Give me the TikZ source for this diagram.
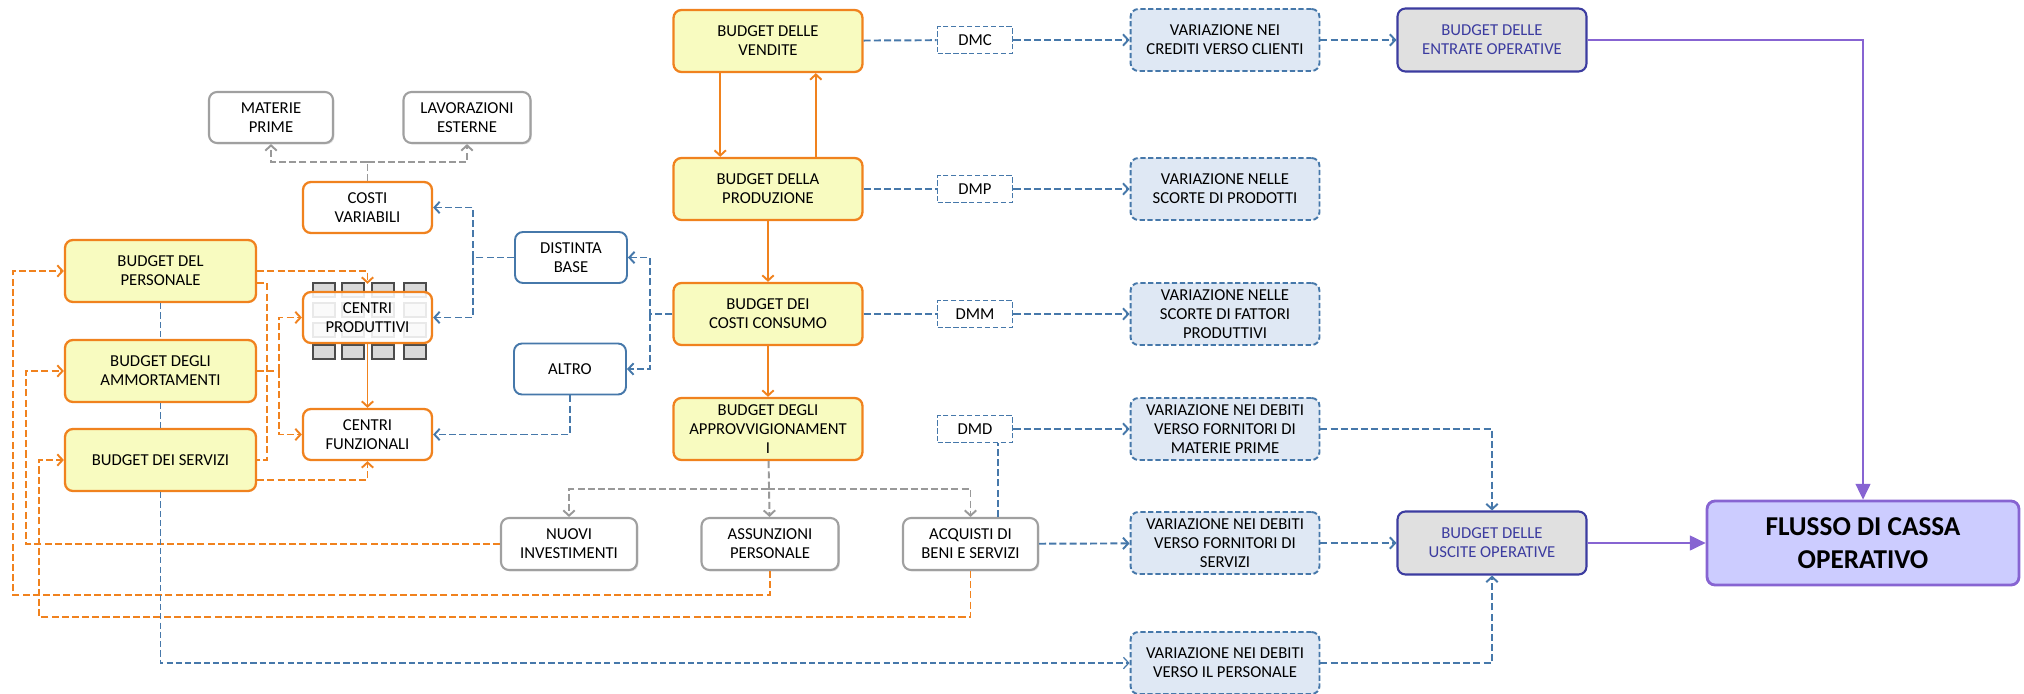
\documentclass[tikz,border=0pt]{standalone}
\usepackage{fontspec}
\setmainfont{Carlito}
\usetikzlibrary{positioning,calc,arrows.meta,shadows}

\definecolor{orng}{RGB}{240,130,30}
\definecolor{ylw}{RGB}{248,251,192}
\definecolor{blu}{RGB}{70,120,170}
\definecolor{lblu}{RGB}{223,232,244}
\definecolor{gry}{RGB}{160,160,160}
\definecolor{navy}{RGB}{60,60,160}
\definecolor{lgry}{RGB}{224,224,224}
\definecolor{purp}{RGB}{135,100,210}
\definecolor{lav}{RGB}{204,204,255}

\begin{document}
\begin{tikzpicture}[x=0.02cm,y=-0.02cm,
    font=\fontsize{9.5}{10.8}\selectfont,
    >={Straight Barb[length=3pt,width=6.5pt]},
    base/.style={rounded corners=4.5pt,align=center,inner sep=1pt},
    budget/.style={base,draw=orng,fill=ylw,line width=1.3pt,minimum width=3.78cm,minimum height=1.24cm},
    centro/.style={base,draw=orng,fill=white,line width=1.3pt,minimum width=2.58cm,minimum height=1.02cm},
    fonte/.style={base,draw=blu,fill=white,line width=1.1pt,minimum width=2.24cm,minimum height=1.02cm},
    voce/.style={base,draw=gry,fill=white,line width=1.2pt,minimum height=1.04cm,
        drop shadow={shadow xshift=0.8pt,shadow yshift=-0.8pt,opacity=0.25}},
    variaz/.style={base,draw=blu,fill=lblu,line width=1.1pt,dash pattern=on 3pt off 1.5pt,
        minimum width=3.78cm,minimum height=1.24cm},
    dmbox/.style={draw=blu,fill=white,line width=1.1pt,dash pattern=on 3pt off 1.5pt,
        minimum width=1.5cm,minimum height=0.54cm,inner sep=1pt},
    finale/.style={base,draw=navy,fill=lgry,text=navy,line width=1.2pt,minimum width=3.78cm,minimum height=1.26cm},
    flusso/.style={base,draw=purp,fill=lav,line width=1.6pt,minimum width=6.24cm,minimum height=1.68cm,
        font=\fontsize{15.5}{18.8}\selectfont\bfseries},
    cella/.style={fill=gray!30,draw=gray!60!black,line width=0.8pt,
        drop shadow={shadow xshift=0.8pt,shadow yshift=-0.8pt,opacity=0.3}},
    ofull/.style={orng,line width=1.1pt},
    odash/.style={orng,line width=1.1pt,dash pattern=on 4pt off 1.8pt},
    bdash/.style={blu,line width=1.1pt,dash pattern=on 4pt off 1.8pt},
    bthin/.style={blu,line width=0.7pt,dash pattern=on 3.5pt off 1.8pt},
    gdash/.style={gray!80,line width=1.1pt,dash pattern=on 4pt off 1.8pt},
    pline/.style={purp,line width=0.9pt,-{Triangle[length=9pt,width=8.5pt]}}]

\useasboundingbox (0,0) rectangle (2024,693);

% colonna centrale
\node[budget] (ven) at (768,41) {BUDGET DELLE\\VENDITE};
\node[budget] (pro) at (768,189) {BUDGET DELLA\\PRODUZIONE};
\node[budget] (con) at (768,314) {BUDGET DEI\\COSTI CONSUMO};
\node[budget] (app) at (768,429) {BUDGET DEGLI\\APPROVVIGIONAMENT\\I};

\node[dmbox] (dmc) at (975,40) {DMC};
\node[dmbox] (dmp) at (975,189) {DMP};
\node[dmbox] (dmm) at (975,314) {DMM};
\node[dmbox] (dmd) at (975,429) {DMD};

\node[variaz] (vcr) at (1225,40) {VARIAZIONE NEI\\CREDITI VERSO CLIENTI};
\node[variaz] (vsp) at (1225,189) {VARIAZIONE NELLE\\SCORTE DI PRODOTTI};
\node[variaz] (vsf) at (1225,314) {VARIAZIONE NELLE\\SCORTE DI FATTORI\\PRODUTTIVI};
\node[variaz] (vmp) at (1225,429) {VARIAZIONE NEI DEBITI\\VERSO FORNITORI DI\\MATERIE PRIME};
\node[variaz] (vfs) at (1225,543) {VARIAZIONE NEI DEBITI\\VERSO FORNITORI DI\\SERVIZI};
\node[variaz] (vpe) at (1225,663) {VARIAZIONE NEI DEBITI\\VERSO IL PERSONALE};

\node[finale] (ent) at (1492,40) {BUDGET DELLE\\ENTRATE OPERATIVE};
\node[finale] (usc) at (1492,543) {BUDGET DELLE\\USCITE OPERATIVE};
\node[flusso] (flu) at (1863,543) {FLUSSO DI CASSA\\OPERATIVO};

% lato sinistro
\node[budget,minimum width=3.82cm] (per) at (160.5,271) {BUDGET DEL\\PERSONALE};
\node[budget,minimum width=3.82cm] (amm) at (160.5,371) {BUDGET DEGLI\\AMMORTAMENTI};
\node[budget,minimum width=3.82cm] (ser) at (160.5,460) {BUDGET DEI SERVIZI};

\node[voce,minimum width=2.48cm,minimum height=1.02cm] (mp) at (271,117.5) {MATERIE\\PRIME};
\node[voce,minimum width=2.54cm,minimum height=1.02cm] (le) at (467,117.5) {LAVORAZIONI\\ESTERNE};
\node[centro] (cv) at (367.5,207.5) {COSTI\\VARIABILI};

\foreach \cx in {324,353,383,415}
  \foreach \cy in {283,303,323,345}
    \path[cella] (\cx-11,\cy) rectangle ++(22,14);
\node[centro,fill opacity=0.88,text opacity=1] (cp) at (367.5,317.5) {CENTRI\\PRODUTTIVI};
\node[centro] (cf) at (367.5,434.5) {CENTRI\\FUNZIONALI};

\node[fonte] (db) at (571,257.5) {DISTINTA\\BASE};
\node[fonte] (al) at (570,369) {ALTRO};

\node[voce,minimum width=2.72cm] (nuo) at (569,544) {NUOVI\\INVESTIMENTI};
\node[voce,minimum width=2.74cm] (ass) at (770,544) {ASSUNZIONI\\PERSONALE};
\node[voce,minimum width=2.7cm] (acq) at (970.5,544) {ACQUISTI DI\\BENI E SERVIZI};

% frecce arancioni
\draw[ofull,->] ($(ven.south west)!.25!(ven.south east)$) -- ($(pro.north west)!.25!(pro.north east)$);
\draw[ofull,->] ($(pro.north west)!.75!(pro.north east)$) -- ($(ven.south west)!.75!(ven.south east)$);
\draw[ofull,->] (pro) -- (con);
\draw[ofull,->] (con) -- (app);
\draw[ofull,->] (cp) -- (cf);

\coordinate (o1) at (267,283);
\coordinate (o2) at (279,371);
\coordinate (o3) at (0,480);
\draw[odash,->] (per.east) -| ([yshift=4pt]cp.north);
\draw[odash] (per.east |- o1) -- (o1) -- (o1 |- ser.east) -- (ser.east);
\draw[odash] (amm.east) -- (o2);
\draw[odash,->] (o2) |- (cp.west);
\draw[odash,->] (o2) |- (cf.west);
\draw[odash,->] (ser.east |- o3) -| (cf.south);

\coordinate (l1) at (13,595);
\coordinate (l2) at (26,0);
\coordinate (l3) at (39,617);
\draw[odash,->] (ass.south) |- (l1) |- (per.west);
\draw[odash,->] (nuo.west) -- (nuo.west -| l2) |- (amm.west);
\draw[odash,->] (acq.south) |- (l3) |- (ser.west);

% frecce blu
\draw[bdash] (ven) -- (dmc);
\draw[bdash,->] (dmc) -- (vcr);
\draw[bdash,->] (vcr) -- (ent);
\draw[bdash] (pro) -- (dmp);
\draw[bdash,->] (dmp) -- (vsp);
\draw[bdash] (con) -- (dmm);
\draw[bdash,->] (dmm) -- (vsf);
\draw[bdash,->] (dmd) -- (vmp);
\coordinate (dx) at (998,0);
\draw[bdash] (acq.north -| dx) -- (dmd.south -| dx);
\draw[bdash,->] (acq) -- (vfs);
\draw[bdash,->] (vfs) -- (usc);
\draw[bdash,->] (vmp.east) -| (usc.north);
\draw[bdash,->] (vpe.east) -| (usc.south);

\coordinate (k1) at (650,314);
\coordinate (k2) at (473,257.5);
\draw[bdash,->] (con.west) -- (k1) |- (db.east);
\draw[bdash,->] (k1) |- (al.east);
\draw[bdash,->] (db.west) -- (k2) |- (cv.east);
\draw[bdash,->] (k2) |- (cp.east);
\draw[bdash,->] (al.south) |- (cf.east);

\draw[bthin] (per) -- (amm);
\draw[bthin] (amm) -- (ser);
\draw[bthin,->] (ser.south) |- (vpe.west);

% frecce grigie
\coordinate (g1) at (367.5,162);
\coordinate (g2) at (768,489);
\draw[gdash] (cv.north) -- (g1);
\draw[gdash,->] (g1) -| (mp.south);
\draw[gdash,->] (g1) -| (le.south);
\draw[gdash,->] (app) -- (ass);
\draw[gdash,->] (g2) -| (nuo.north);
\draw[gdash,->] (g2) -| (acq.north);

% flusso di cassa
\draw[pline] (usc) -- (flu);
\draw[pline] (ent.east) -| (flu.north);
\end{tikzpicture}
\end{document}
